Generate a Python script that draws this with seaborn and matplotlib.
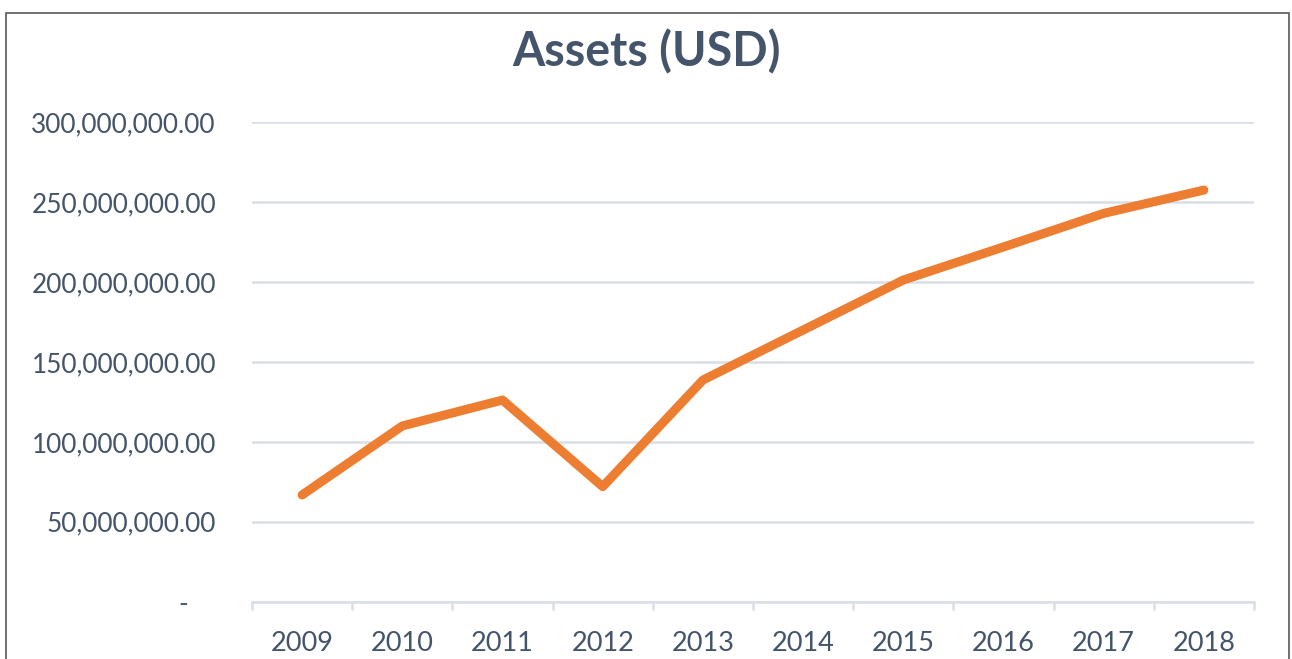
import matplotlib
matplotlib.use("Agg")
import matplotlib.pyplot as plt
import matplotlib.ticker as mticker
from matplotlib.patches import Rectangle
import pandas as pd
import seaborn as sns

# values
years = ["2009", "2010", "2011", "2012", "2013", "2014", "2015", "2016", "2017", "2018"]
assets = [66.8e6, 110.0e6, 126.2e6, 72.0e6, 138.7e6, 170.0e6, 201.3e6, 222.0e6, 243.0e6, 257.6e6]
y_ticks = [0, 50e6, 100e6, 150e6, 200e6, 250e6, 300e6]

df = pd.DataFrame({"Year": years, "Assets": assets})

sns.set_theme(style="white")
plt.rcParams["font.family"] = ["Lato", "DejaVu Sans"]

text_col = "#44546A"
grid_col = "#D9DEE6"

fig = plt.figure(figsize=(12.92, 6.59), dpi=100)
ax = fig.add_axes([252 / 1292, 1 - 601.7 / 659, (1254 - 252) / 1292, (601.7 - 122.3) / 659])

sns.lineplot(data=df, x="Year", y="Assets", ax=ax, color="#ED7D31", linewidth=6.5,
             solid_capstyle="round", solid_joinstyle="round", sort=False, zorder=3)

ax.set_xlim(-0.5, len(years) - 0.5)
ax.set_ylim(0, 300e6)
ax.set_yticks(y_ticks)
ax.yaxis.set_major_formatter(mticker.FuncFormatter(
    lambda v, p: "-    " if v == 0 else f"{v:,.2f}"))
ax.grid(axis="y", color=grid_col, linewidth=1.8)
ax.set_axisbelow(True)

for s in ["top", "right", "left"]:
    ax.spines[s].set_visible(False)
ax.spines["bottom"].set_color(grid_col)
ax.spines["bottom"].set_linewidth(1.8)

ax.set_xticks(range(len(years)))
ax.set_xticks([i - 0.5 for i in range(len(years) + 1)], minor=True)
ax.tick_params(axis="x", which="major", length=0, pad=21, labelsize=19.5, labelcolor=text_col)
ax.tick_params(axis="x", which="minor", length=6, width=1.8, color=grid_col, direction="out", bottom=True)
ax.tick_params(axis="y", length=0, pad=26, labelsize=18.8, labelcolor=text_col)
ax.set_xlabel("")
ax.set_ylabel("")

fig.text(0.5, 1 - 52 / 659, "Assets (USD)", ha="center", va="center",
         fontsize=33.5, fontweight="bold", color=text_col)

fig.patches.append(Rectangle((6 / 1292, -0.05), (1289 - 6) / 1292, 1.05 - 13 / 659,
                             transform=fig.transFigure, fill=False,
                             edgecolor="#595959", linewidth=1.2))

fig.savefig("out.png", dpi=100)
